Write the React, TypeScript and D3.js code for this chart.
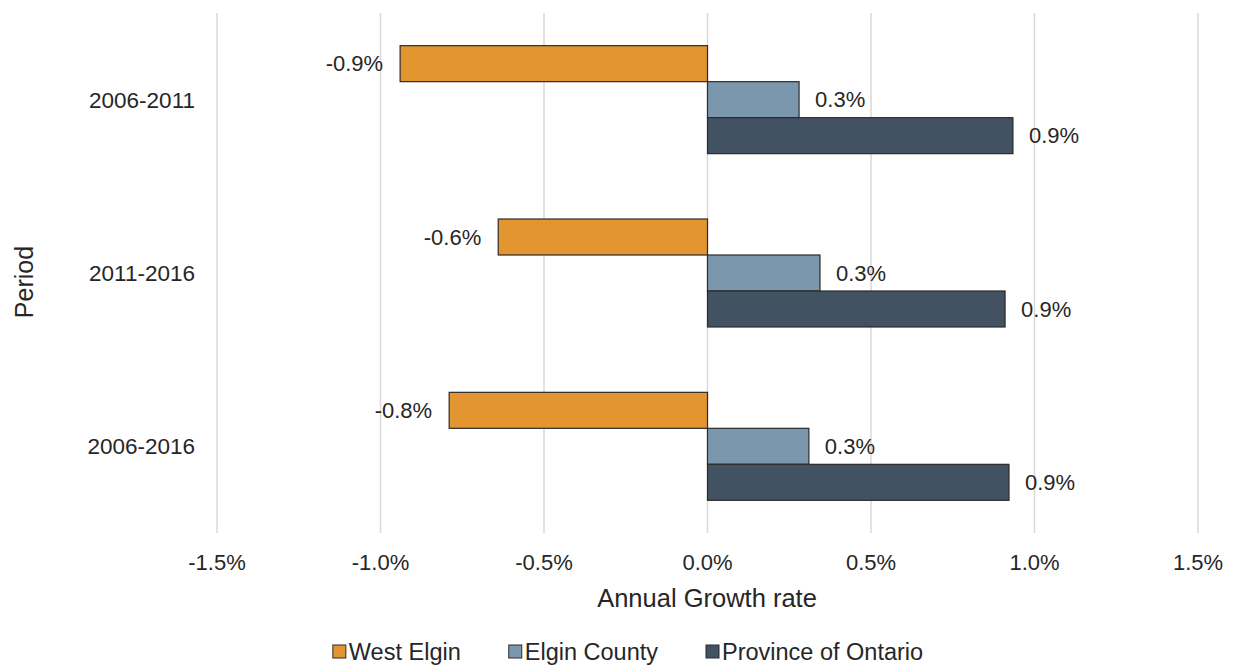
import React, { useRef, useEffect } from 'react';
import * as d3 from 'd3';

const periods = ['2006-2011', '2011-2016', '2006-2016'];
const seriesNames = ['West Elgin', 'Elgin County', 'Province of Ontario'];
const westElgin = [-0.94, -0.64, -0.79];
const elginCounty = [0.28, 0.344, 0.31];
const ontario = [0.934, 0.91, 0.922];
const xTicks = [-1.5, -1.0, -0.5, 0.0, 0.5, 1.0, 1.5];
const colors = ['#E3962F', '#7B97AD', '#425263'];

const W = 1236;
const H = 667;
const FONT = '"Liberation Sans", Arial, sans-serif';

const App = () => {
    const ref = useRef(null);

    useEffect(() => {
        if (ref.current) draw(ref.current);
    }, []);

    return (
        <svg ref={ref} width={W} height={H}
            style={{ position: 'absolute', left: 0, top: 0, background: '#fff' }} />
    );
};

function draw(node) {
    const svg = d3.select(node);
    svg.selectAll('*').remove();

    const plot = { left: 217, right: 1198, top: 13, bottom: 533 };
    const values = [westElgin, elginCounty, ontario];

    const x = d3.scaleLinear()
        .domain([-1.5, 1.5])
        .range([plot.left, plot.right]);

    const y = d3.scaleBand()
        .domain(periods)
        .range([plot.top, plot.bottom])
        .paddingInner(0.377)
        .paddingOuter(0.1885);

    const yInner = d3.scaleBand()
        .domain(seriesNames)
        .range([0, y.bandwidth()]);

    // gridlines
    svg.append('g')
        .selectAll('line')
        .data(xTicks)
        .join('line')
        .attr('x1', d => x(d)).attr('x2', d => x(d))
        .attr('y1', plot.top).attr('y2', plot.bottom)
        .attr('stroke', '#D9D9D9')
        .attr('stroke-width', 1.5);

    // x tick labels
    svg.append('g')
        .selectAll('text')
        .data(xTicks)
        .join('text')
        .attr('x', d => x(d))
        .attr('y', 570)
        .attr('text-anchor', 'middle')
        .style('font-family', FONT)
        .style('font-size', '22px')
        .style('fill', '#262626')
        .text(d => d.toFixed(1) + '%');

    // category labels
    svg.append('g')
        .selectAll('text')
        .data(periods)
        .join('text')
        .attr('x', 195)
        .attr('y', d => y(d) + y.bandwidth() / 2)
        .attr('dy', '0.35em')
        .attr('text-anchor', 'end')
        .style('font-family', FONT)
        .style('font-size', '22.5px')
        .style('fill', '#262626')
        .text(d => d);

    // bars + labels
    seriesNames.forEach((name, si) => {
        const rows = periods.map((p, i) => ({ p, v: values[si][i] }));
        const g = svg.append('g');

        g.selectAll('rect')
            .data(rows)
            .join('rect')
            .attr('x', d => x(Math.min(0, d.v)))
            .attr('width', d => Math.abs(x(d.v) - x(0)))
            .attr('y', d => y(d.p) + yInner(name))
            .attr('height', yInner.bandwidth())
            .attr('fill', colors[si])
            .attr('stroke', '#2b2b2b')
            .attr('stroke-width', 1.2);

        g.selectAll('text')
            .data(rows)
            .join('text')
            .attr('x', d => d.v < 0 ? x(d.v) - 17 : x(d.v) + 16)
            .attr('y', d => y(d.p) + yInner(name) + yInner.bandwidth() / 2)
            .attr('dy', '0.35em')
            .attr('text-anchor', d => d.v < 0 ? 'end' : 'start')
            .style('font-family', FONT)
            .style('font-size', '22px')
            .style('fill', '#262626')
            .text(d => d.v.toFixed(1) + '%');
    });

    // axis titles
    svg.append('text')
        .attr('x', 707)
        .attr('y', 607)
        .attr('text-anchor', 'middle')
        .style('font-family', FONT)
        .style('font-size', '25.5px')
        .style('fill', '#262626')
        .text('Annual Growth rate');

    svg.append('text')
        .attr('transform', 'translate(33,282) rotate(-90)')
        .attr('text-anchor', 'middle')
        .style('font-family', FONT)
        .style('font-size', '25px')
        .style('fill', '#262626')
        .text('Period');

    // legend
    const legend = svg.append('g');
    const items = legend.selectAll('g')
        .data(seriesNames)
        .join('g');

    items.append('rect')
        .attr('x', 0).attr('y', -7)
        .attr('width', 13).attr('height', 13)
        .attr('fill', (d, i) => colors[i])
        .attr('stroke', '#2b2b2b')
        .attr('stroke-width', 1);

    items.append('text')
        .attr('x', 16)
        .attr('dy', '0.35em')
        .style('font-family', FONT)
        .style('font-size', '23.5px')
        .style('fill', '#262626')
        .text(d => d);

    const gap = 48;
    const widths = [];
    items.each(function () {
        widths.push(16 + this.querySelector('text').getComputedTextLength());
    });
    const total = d3.sum(widths) + gap * (widths.length - 1);
    let cx = 628 - total / 2;
    items.attr('transform', (d, i) => {
        const t = `translate(${cx},652)`;
        cx += widths[i] + gap;
        return t;
    });
}

export default App;
